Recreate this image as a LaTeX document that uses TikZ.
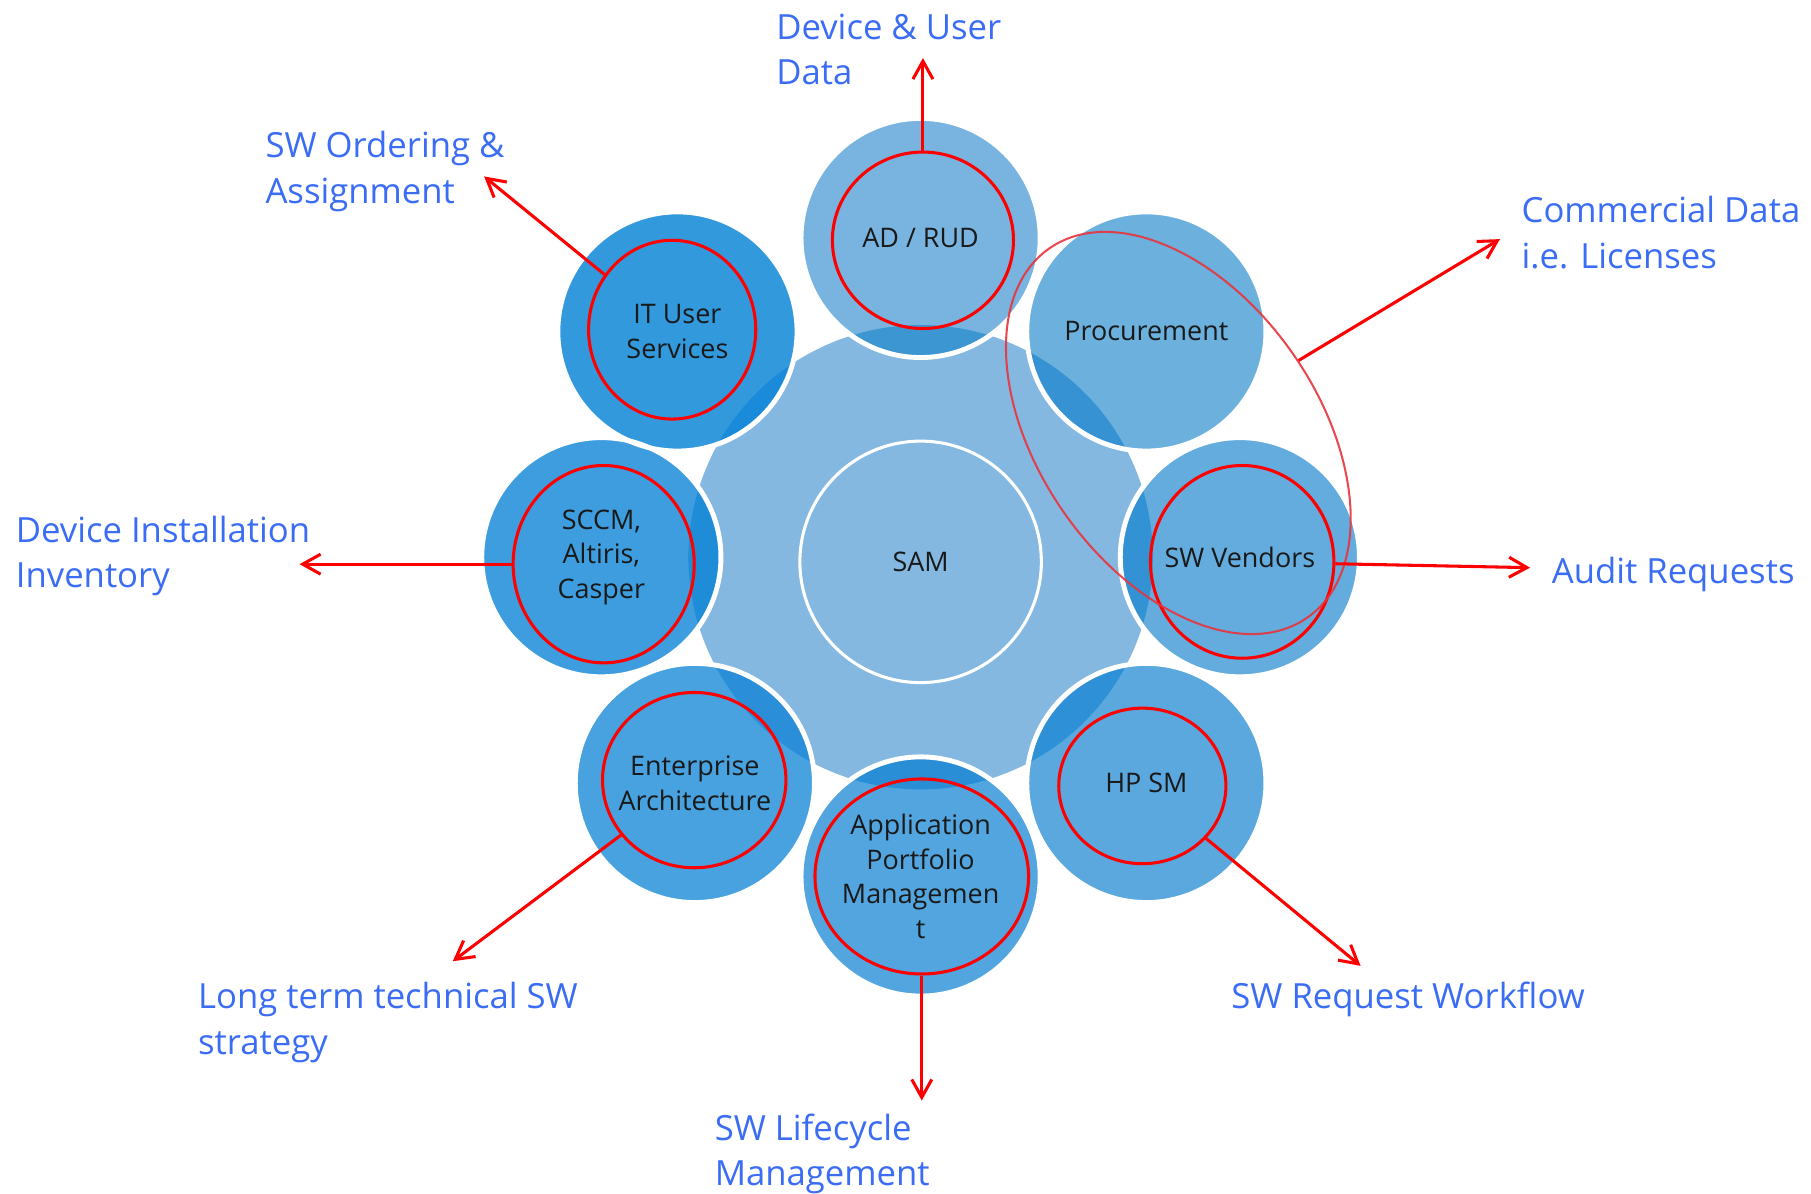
\documentclass[tikz,border=0pt]{standalone}
\usepackage{fontspec}
\setmainfont{Open Sans}
\usepackage{tikz}
\usetikzlibrary{shapes.geometric, arrows.meta, positioning}

\definecolor{hubblue}{HTML}{84B8E0}
\definecolor{adfill}{HTML}{78B4DF}   \definecolor{adover}{HTML}{3C96D2}
\definecolor{procfill}{HTML}{6CB0DE} \definecolor{procover}{HTML}{3692D2}
\definecolor{vendfill}{HTML}{64ACDE} \definecolor{vendover}{HTML}{3292D4}
\definecolor{hpfill}{HTML}{5AA8DE}   \definecolor{hpover}{HTML}{2E90D6}
\definecolor{appfill}{HTML}{52A5DE}  \definecolor{appover}{HTML}{2A8ED6}
\definecolor{entfill}{HTML}{47A2DF}  \definecolor{entover}{HTML}{2A8FD8}
\definecolor{sccmfill}{HTML}{3E9DDF} \definecolor{sccmover}{HTML}{1F8CD8}
\definecolor{itfill}{HTML}{3399DD}   \definecolor{itover}{HTML}{1A8ADA}
\definecolor{labelblue}{HTML}{3A6CF4}
\definecolor{bigred}{HTML}{E8343C}

\newcommand{\nodefont}{\fontsize{6.6}{8.5}\selectfont}
\newcommand{\labelfont}{\fontsize{8.5}{11.07}\selectfont}

\tikzstyle{arrow} = [draw=red, line width=0.75pt, -{Straight Barb[length=4.4pt,width=4.9pt]}]
\tikzstyle{satellite} = [circle, draw=white, line width=1.2pt, minimum size=2.06cm, inner sep=0pt, align=center, font=\nodefont, text=black!90]
\tikzstyle{hubring} = [circle, draw=white, line width=0.75pt, minimum size=2.08cm, inner sep=0pt, font=\nodefont, text=black!90]
\tikzstyle{ring} = [ellipse, draw=red, line width=0.75pt, inner sep=0pt]
\tikzstyle{outlabel} = [anchor=base west, align=left, inner sep=0pt, font=\labelfont, text=labelblue]

\begin{document}
\begin{tikzpicture}
\useasboundingbox (0,0) rectangle (15.6,10.28);
\coordinate (hub) at (7.93,5.48);

% hub and shaded satellites
\fill[hubblue] (hub) circle (2.0);
\foreach \ang/\dx/\fc/\oc in {90/0/adfill/adover, 45/0/procfill/procover, 0/0/vendfill/vendover, -45/0/hpfill/hpover, -90/0/appfill/appover, -135/0/entfill/entover, 180/0/sccmfill/sccmover, 135/-0.15/itfill/itover}{
  \fill[\fc] ([shift={(\ang:2.75)}, xshift=\dx cm]hub) circle (1.03);
  \begin{scope}
    \clip (hub) circle (2.0);
    \fill[\oc] ([shift={(\ang:2.75)}, xshift=\dx cm]hub) circle (1.03);
  \end{scope}
}

\node[hubring] (sam) at (7.93,5.44) {SAM};
\node[satellite] (adrud) at ([shift={(90:2.75)}]hub) {AD / RUD};
\node[satellite] (procurement) at ([shift={(45:2.75)}]hub) {Procurement};
\node[satellite] (vendors) at ([shift={(0:2.75)}]hub) {SW Vendors};
\node[satellite] (hpsm) at ([shift={(-45:2.75)}]hub) {HP SM};
\node[satellite] (portfolio) at ([shift={(-90:2.75)}]hub) {Application\\Portfolio\\Managemen\\t};
\node[satellite] (enterprise) at ([shift={(-135:2.75)}]hub) {Enterprise\\Architecture};
\node[satellite] (sccm) at ([shift={(180:2.75)}]hub) {SCCM,\\Altiris,\\Casper};
\node[satellite] (itusers) at ([shift={(135:2.75)}, xshift=-0.15cm]hub) {IT User\\Services};

% red rings
\node[ring, minimum width=1.56cm, minimum height=1.52cm] (adring) at (7.95,8.21) {};
\node[ring, minimum width=1.44cm, minimum height=1.54cm] (itring) at (5.79,7.44) {};
\node[ring, minimum width=1.56cm, minimum height=1.70cm] (sccmring) at (5.20,5.42) {};
\node[ring, minimum width=1.58cm, minimum height=1.51cm] (entring) at (5.98,3.56) {};
\node[ring, minimum width=1.84cm, minimum height=1.68cm] (appring) at (7.94,2.73) {};
\node[ring, minimum width=1.44cm, minimum height=1.34cm] (hpring) at (9.84,3.51) {};
\node[ring, minimum width=1.58cm, minimum height=1.66cm] (vendring) at (10.70,5.44) {};
\node[ring, draw=bigred, draw opacity=0.9, line width=0.5pt, rotate=-55, minimum width=3.88cm, minimum height=2.40cm] (commring) at (10.15,6.55) {};

% arrow tips
\coordinate (adtip) at (7.95,9.78);
\coordinate (ittip) at (4.17,8.76);
\coordinate (sccmtip) at (2.58,5.42);
\coordinate (enttip) at (3.90,2.00);
\coordinate (apptip) at (7.94,0.80);
\coordinate (hptip) at (11.72,1.96);
\coordinate (vendtip) at (13.18,5.39);
\coordinate (commtip) at (12.92,8.22);

\draw[arrow] (adring) -- (adtip);
\draw[arrow] (itring) -- (ittip);
\draw[arrow] (sccmring) -- (sccmtip);
\draw[arrow] (entring) -- (enttip);
\draw[arrow] (appring) -- (apptip);
\draw[arrow] (hpring) -- (hptip);
\draw[arrow] (vendring) -- (vendtip);
\draw[arrow] (commring) -- (commtip);

% labels (base = last line)
\node[outlabel] (userdata) at (6.68,9.55) {Device \& User\\Data};
\node[outlabel] (ordering) at (2.28,8.53) {SW Ordering \&\\Assignment};
\node[outlabel] (commercial) at (13.10,7.97) {Commercial Data\\i.e. Licenses};
\node[outlabel] (installs) at (0.13,5.22) {Device Installation\\Inventory};
\node[outlabel] (audit) at (13.36,5.25) {Audit Requests};
\node[outlabel] (strategy) at (1.70,1.20) {Long term technical SW\\strategy};
\node[outlabel] (workflow) at (10.60,1.59) {SW Request Workflow};
\node[outlabel] (lifecycle) at (6.15,0.07) {SW Lifecycle\\Management};
\end{tikzpicture}
\end{document}
